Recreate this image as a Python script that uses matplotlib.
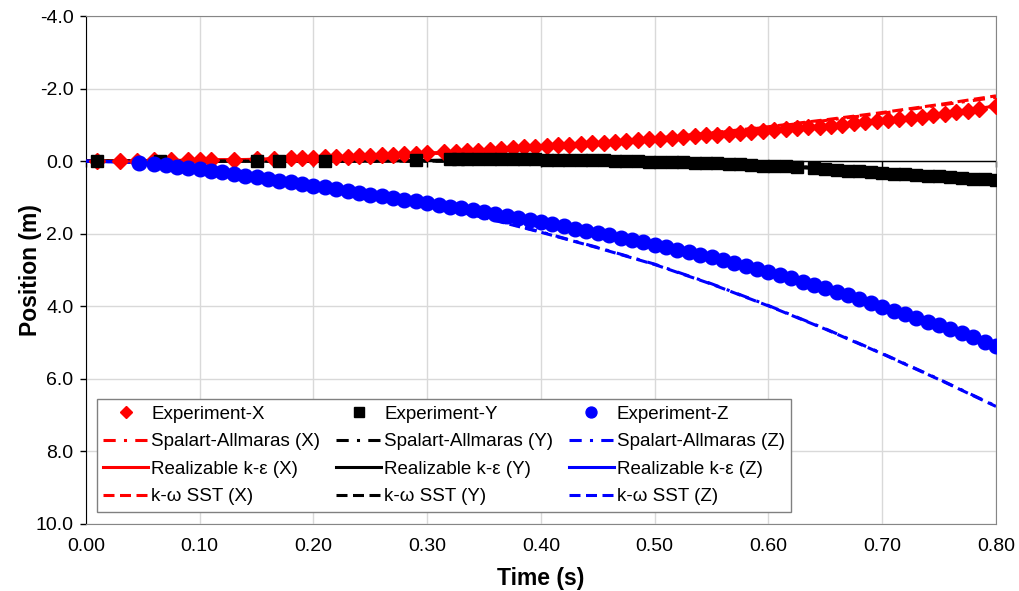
import numpy as np
import matplotlib.pyplot as plt

plt.rcParams['font.family'] = ['Liberation Sans', 'DejaVu Sans']

# measured trajectory, X component (negative = upward on the inverted axis)
t_exp_x = [0.010, 0.030, 0.045, 0.060, 0.075, 0.090, 0.100, 0.110, 0.130, 0.150,
           0.165, 0.180, 0.190, 0.200, 0.210, 0.220, 0.230, 0.240, 0.250, 0.260,
           0.270, 0.280, 0.290, 0.300, 0.315, 0.325, 0.335, 0.345, 0.355, 0.365,
           0.375, 0.385, 0.395, 0.405, 0.415, 0.425, 0.435, 0.445, 0.455, 0.465,
           0.475, 0.485, 0.495, 0.505, 0.515, 0.525, 0.535, 0.545, 0.555, 0.565,
           0.575, 0.585, 0.595, 0.605, 0.615, 0.625, 0.635, 0.645, 0.655, 0.665,
           0.675, 0.685, 0.695, 0.705, 0.715, 0.725, 0.735, 0.745, 0.755, 0.765,
           0.775, 0.785, 0.800]
exp_x = [0.00, -0.01, -0.01, -0.02, -0.02, -0.02, -0.03, -0.03, -0.04, -0.05,
         -0.06, -0.08, -0.09, -0.10, -0.11, -0.12, -0.12, -0.14, -0.15, -0.16,
         -0.17, -0.19, -0.20, -0.22, -0.24, -0.26, -0.27, -0.29, -0.31, -0.33,
         -0.35, -0.38, -0.40, -0.42, -0.44, -0.45, -0.47, -0.49, -0.51, -0.53,
         -0.55, -0.57, -0.60, -0.62, -0.64, -0.66, -0.68, -0.71, -0.73, -0.75,
         -0.78, -0.80, -0.83, -0.86, -0.88, -0.90, -0.93, -0.95, -0.98, -1.01,
         -1.04, -1.07, -1.10, -1.13, -1.16, -1.20, -1.23, -1.27, -1.31, -1.35,
         -1.39, -1.44, -1.52]

# measured trajectory, Y component
t_exp_y = [0.010, 0.065, 0.150, 0.170, 0.210, 0.290, 0.320, 0.327, 0.335, 0.345,
           0.355, 0.365, 0.375, 0.385, 0.395, 0.405, 0.415, 0.425, 0.435, 0.445,
           0.455, 0.465, 0.475, 0.485, 0.495, 0.505, 0.515, 0.525, 0.535, 0.545,
           0.555, 0.565, 0.575, 0.585, 0.595, 0.605, 0.615, 0.625, 0.640, 0.650,
           0.660, 0.670, 0.680, 0.690, 0.700, 0.710, 0.720, 0.730, 0.740, 0.750,
           0.760, 0.770, 0.780, 0.790, 0.800]
exp_y = [0.00, 0.00, 0.00, 0.00, -0.01, -0.02, -0.05, -0.05, -0.06, -0.05,
         -0.06, -0.06, -0.05, -0.05, -0.05, -0.04, -0.04, -0.03, -0.03, -0.02,
         -0.02, -0.01, 0.00, 0.00, 0.01, 0.02, 0.03, 0.03, 0.04, 0.05,
         0.06, 0.07, 0.09, 0.10, 0.12, 0.13, 0.14, 0.15, 0.20, 0.22,
         0.24, 0.26, 0.28, 0.31, 0.33, 0.35, 0.36, 0.38, 0.40, 0.41,
         0.43, 0.46, 0.48, 0.50, 0.53]

# measured trajectory, Z component
t_exp_z = [0.047, 0.060, 0.070, 0.080, 0.090, 0.100, 0.110, 0.120, 0.130, 0.140,
           0.150, 0.160, 0.170, 0.180, 0.190, 0.200, 0.210, 0.220, 0.230, 0.240,
           0.250, 0.260, 0.270, 0.280, 0.290, 0.300, 0.310, 0.320, 0.330, 0.340,
           0.350, 0.360, 0.370, 0.380, 0.390, 0.400, 0.410, 0.420, 0.430, 0.440,
           0.450, 0.460, 0.470, 0.480, 0.490, 0.500, 0.510, 0.520, 0.530, 0.540,
           0.550, 0.560, 0.570, 0.580, 0.590, 0.600, 0.610, 0.620, 0.630, 0.640,
           0.650, 0.660, 0.670, 0.680, 0.690, 0.700, 0.710, 0.720, 0.730, 0.740,
           0.750, 0.760, 0.770, 0.780, 0.790, 0.800]
exp_z = [0.04, 0.08, 0.11, 0.15, 0.18, 0.22, 0.26, 0.31, 0.35, 0.40,
         0.45, 0.49, 0.54, 0.58, 0.63, 0.68, 0.72, 0.77, 0.82, 0.87,
         0.92, 0.96, 1.01, 1.06, 1.10, 1.15, 1.20, 1.25, 1.30, 1.35,
         1.40, 1.45, 1.51, 1.56, 1.62, 1.68, 1.74, 1.80, 1.86, 1.92,
         1.98, 2.04, 2.11, 2.17, 2.24, 2.30, 2.37, 2.44, 2.51, 2.58,
         2.65, 2.73, 2.81, 2.89, 2.97, 3.05, 3.14, 3.23, 3.32, 3.41,
         3.50, 3.60, 3.70, 3.81, 3.91, 4.02, 4.12, 4.22, 4.32, 4.42,
         4.52, 4.63, 4.75, 4.86, 4.98, 5.10]

# CFD results, sampled every 0.05 s
t_sim = [0.00, 0.05, 0.10, 0.15, 0.20, 0.25, 0.30, 0.35, 0.40,
         0.45, 0.50, 0.55, 0.60, 0.65, 0.70, 0.75, 0.80]

sa_x = [0.00, -0.01, -0.02, -0.05, -0.09, -0.14, -0.20, -0.28, -0.38,
        -0.49, -0.62, -0.77, -0.94, -1.12, -1.32, -1.54, -1.76]
rke_x = [0.00, -0.01, -0.03, -0.05, -0.10, -0.15, -0.22, -0.30, -0.41,
         -0.51, -0.61, -0.73, -0.86, -0.98, -1.13, -1.31, -1.52]
sst_x = [0.00, -0.01, -0.02, -0.05, -0.09, -0.14, -0.21, -0.29, -0.39,
         -0.50, -0.63, -0.78, -0.95, -1.14, -1.34, -1.56, -1.80]

sa_y = [0.00, 0.00, 0.00, 0.00, 0.00, 0.00, 0.00, 0.00, 0.01,
        0.02, 0.04, 0.07, 0.12, 0.18, 0.26, 0.35, 0.47]
rke_y = [0.00, 0.00, 0.00, 0.00, 0.00, 0.00, -0.02, -0.05, -0.04,
         -0.02, 0.02, 0.06, 0.13, 0.22, 0.33, 0.41, 0.53]
sst_y = [0.00, 0.00, 0.00, 0.00, 0.00, 0.00, 0.00, 0.00, 0.01,
         0.02, 0.04, 0.08, 0.12, 0.18, 0.26, 0.36, 0.48]

sa_z = [0.00, 0.03, 0.19, 0.43, 0.69, 0.93, 1.18, 1.55, 1.95,
        2.38, 2.84, 3.38, 3.98, 4.62, 5.30, 6.01, 6.75]
rke_z = [0.00, 0.04, 0.22, 0.45, 0.68, 0.92, 1.15, 1.40, 1.68,
         1.98, 2.30, 2.65, 3.05, 3.50, 4.02, 4.52, 5.10]
sst_z = [0.00, 0.03, 0.19, 0.43, 0.69, 0.93, 1.19, 1.56, 1.96,
         2.39, 2.85, 3.39, 3.99, 4.63, 5.31, 6.02, 6.76]

x_ticks = [0.00, 0.10, 0.20, 0.30, 0.40, 0.50, 0.60, 0.70, 0.80]
y_ticks = [-4.0, -2.0, 0.0, 2.0, 4.0, 6.0, 8.0, 10.0]

fig, ax = plt.subplots(figsize=(10.19, 5.91), dpi=100)
fig.subplots_adjust(left=0.0844, right=0.9774, top=0.9729, bottom=0.1134)

lw = 2.2
sa_dash = (4, 2.7, 1, 2.7)
sst_dash = (3.6, 1.8)

series = [
    ('red', 'D', 8.5, t_exp_x, exp_x, sa_x, rke_x, sst_x, 'X'),
    ('black', 's', 9.0, t_exp_y, exp_y, sa_y, rke_y, sst_y, 'Y'),
    ('blue', 'o', 10.5, t_exp_z, exp_z, sa_z, rke_z, sst_z, 'Z'),
]

for col, mk, ms, te, ye, sa, rke, sst, comp in series:
    ax.plot(te, ye, ls='none', marker=mk, ms=ms, color=col, mec=col,
            label='Experiment-' + comp, zorder=4)
    ax.plot(t_sim, sa, color=col, lw=lw, dashes=sa_dash,
            label='Spalart-Allmaras (%s)' % comp, zorder=3)
    ax.plot(t_sim, rke, color=col, lw=lw, ls='-',
            label='Realizable k-ε (%s)' % comp, zorder=2.5)
    ax.plot(t_sim, sst, color=col, lw=lw, dashes=sst_dash,
            label='k-ω SST (%s)' % comp, zorder=3)

ax.set_xlim(0, 0.80)
ax.set_ylim(10, -4)
ax.set_xticks(x_ticks)
ax.set_yticks(y_ticks)
ax.set_xticklabels(['%.2f' % v for v in x_ticks])
ax.set_yticklabels(['%.1f' % v for v in y_ticks])
ax.grid(True, color='#d9d9d9', lw=1, zorder=0)
ax.set_axisbelow(True)

# horizontal axis crosses at zero, ticks hang off that line
ax.axhline(0, color='black', lw=1, zorder=2)
ax.plot(x_ticks, [0] * len(x_ticks), ls='none', marker=3, ms=4,
        color='black', mew=1, zorder=2, clip_on=False)

ax.tick_params(axis='x', length=0, pad=10, labelsize=14)
ax.tick_params(axis='y', length=4, width=1, pad=5, labelsize=14, color='black')
for side in ['top', 'right', 'bottom']:
    ax.spines[side].set_color('#868686')
ax.spines['left'].set_color('black')

ax.set_xlabel('Time (s)', fontsize=16.5, fontweight='bold', labelpad=9)
ax.set_ylabel('Position (m)', fontsize=16.5, fontweight='bold', labelpad=-5)

leg = ax.legend(ncol=3, loc='lower left', bbox_to_anchor=(0.012, 0.024),
                borderaxespad=0, fontsize=13.5, handlelength=2.4,
                handletextpad=0.15, columnspacing=0.85, labelspacing=0.55,
                borderpad=0.35, fancybox=False, framealpha=1, markerscale=0.75)
leg.get_frame().set_edgecolor('#808080')
leg.get_frame().set_linewidth(1)

plt.savefig('out.png', dpi=100)
